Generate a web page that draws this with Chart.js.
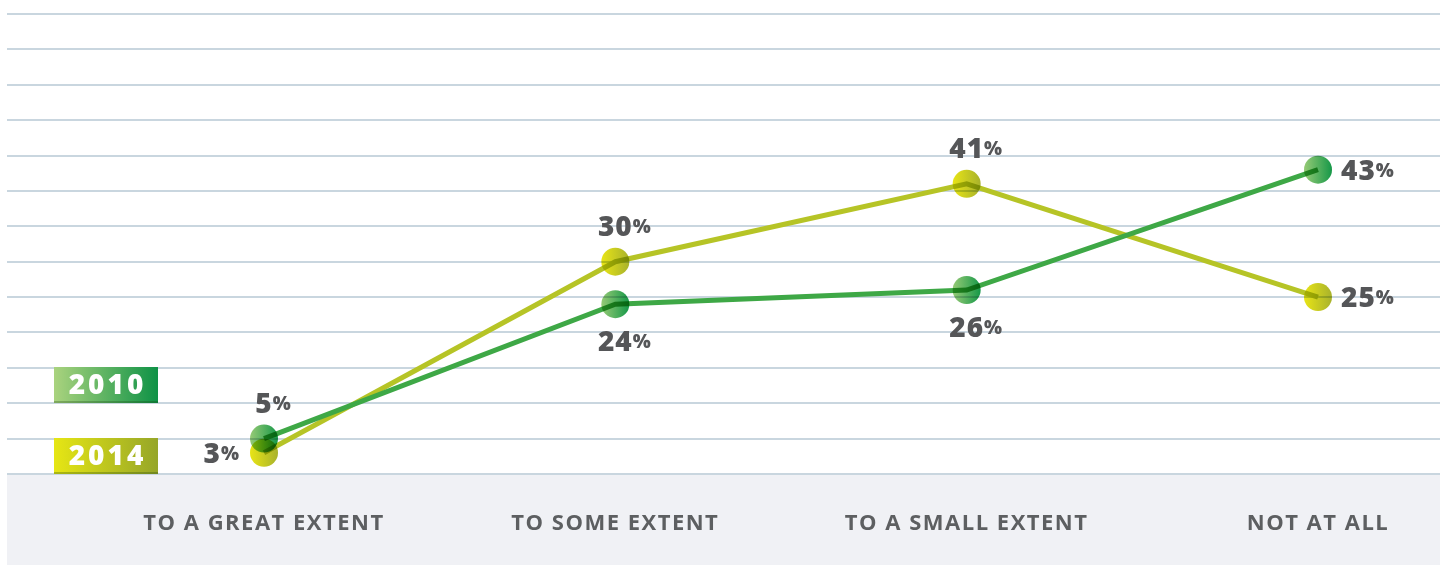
<!DOCTYPE html>
<html>
<head>
<meta charset="utf-8">
<script src="https://cdn.jsdelivr.net/npm/chart.js@4"></script>
<style>
  html, body { margin: 0; padding: 0; background: #ffffff; }
  #wrap { width: 1440px; height: 565px; position: relative; }
</style>
</head>
<body>
<div id="wrap"><canvas id="chart" width="1440" height="565"></canvas></div>
<script>
// Survey answers by category, 2010 vs 2014 (percent of respondents)
const categories = ['TO A GREAT EXTENT', 'TO SOME EXTENT', 'TO A SMALL EXTENT', 'NOT AT ALL'];
const seriesNames = ['2010', '2014'];
const values2010 = [5, 24, 26, 43];
const values2014 = [3, 30, 41, 25];
// where each value label sits relative to its point
const labelSide2010 = ['top', 'bottom', 'bottom', 'right'];
const labelSide2014 = ['left', 'top', 'top', 'right'];
// horizontal rule values on the y axis
const gridValues = [0, 5, 10, 15, 20, 25, 30, 35, 40, 45, 50, 55, 60, 65];

const FONT = '"Open Sans", "Noto Sans", sans-serif';
const POINT_R = 14;

const palette = {
  '2010': { line: 'rgb(62,168,70)', from: 'rgb(150,202,118)', to: 'rgb(22,152,72)',
            boxFrom: 'rgb(170,211,126)', boxTo: 'rgb(14,146,70)' },
  '2014': { line: 'rgb(182,196,38)', from: 'rgb(232,228,22)', to: 'rgb(168,178,44)',
            boxFrom: 'rgb(230,230,20)', boxTo: 'rgb(150,166,40)' }
};

// horizontal gradient across each point marker
function pointFill(name) {
  return function (context) {
    const chart = context.chart;
    if (!chart.chartArea || context.dataIndex === undefined) return palette[name].to;
    const x = chart.scales.x.getPixelForValue(context.dataIndex);
    const g = chart.ctx.createLinearGradient(x - POINT_R, 0, x + POINT_R, 0);
    g.addColorStop(0, palette[name].from);
    g.addColorStop(1, palette[name].to);
    return g;
  };
}

// background band, horizontal rules
const backdrop = {
  id: 'backdrop',
  beforeDraw(chart) {
    const { ctx, scales: { y } } = chart;
    ctx.save();
    ctx.fillStyle = '#ffffff';
    ctx.fillRect(0, 0, chart.width, chart.height);
    const base = y.getPixelForValue(0);
    ctx.fillStyle = '#f0f1f5';
    ctx.fillRect(7, base, chart.width - 7, chart.height - base);
    ctx.strokeStyle = '#c9d6df';
    ctx.lineWidth = 2;
    gridValues.forEach(v => {
      const py = Math.round(y.getPixelForValue(v));
      ctx.beginPath();
      ctx.moveTo(7, py);
      ctx.lineTo(chart.width, py);
      ctx.stroke();
    });
    ctx.restore();
    ctx.letterSpacing = '1.5px';
  }
};

// all lines first (2014 under 2010), then all markers blended with multiply
const layeredDatasets = {
  id: 'layeredDatasets',
  beforeDatasetsDraw(chart) {
    const ctx = chart.ctx;
    const area = chart.chartArea;
    ctx.save();
    ctx.letterSpacing = '0px';
    const metas = [chart.getDatasetMeta(1), chart.getDatasetMeta(0)];
    metas.forEach(meta => { if (meta.dataset) meta.dataset.draw(ctx, area); });
    ctx.globalCompositeOperation = 'multiply';
    metas.forEach(meta => meta.data.forEach(pt => pt.draw(ctx, area)));
    ctx.restore();
    return false;
  }
};

function drawValue(ctx, x, y, value, side) {
  const num = String(value);
  ctx.letterSpacing = '1px';
  ctx.font = '800 28px ' + FONT;
  const wNum = ctx.measureText(num).width;
  ctx.font = '800 19px ' + FONT;
  const wPct = ctx.measureText('%').width;
  let left, cy;
  if (side === 'top') { left = x - wNum / 2; cy = y - 36; }
  else if (side === 'bottom') { left = x - wNum / 2; cy = y + 37; }
  else if (side === 'right') { left = x + 23; cy = y; }
  else { left = x - 24 - wNum - wPct; cy = y; }
  ctx.fillStyle = '#555658';
  ctx.textAlign = 'left';
  ctx.textBaseline = 'alphabetic';
  ctx.font = '800 28px ' + FONT;
  ctx.fillText(num, left, cy + 10);
  ctx.font = '800 19px ' + FONT;
  ctx.fillText('%', left + wNum, cy + 7);
}

const valueLabels = {
  id: 'valueLabels',
  afterDraw(chart) {
    const ctx = chart.ctx;
    ctx.save();
    const sides = [labelSide2010, labelSide2014];
    chart.data.datasets.forEach((ds, i) => {
      const meta = chart.getDatasetMeta(i);
      meta.data.forEach((pt, j) => drawValue(ctx, pt.x, pt.y, ds.data[j], sides[i][j]));
    });

    // series key: gradient tiles with the year inside
    const tiles = [{ name: seriesNames[0], top: 367 }, { name: seriesNames[1], top: 438 }];
    tiles.forEach(t => {
      const left = 54, w = 104, h = 36;
      const g = ctx.createLinearGradient(left, 0, left + w, 0);
      g.addColorStop(0, palette[t.name].boxFrom);
      g.addColorStop(1, palette[t.name].boxTo);
      ctx.fillStyle = g;
      ctx.fillRect(left, t.top, w, h);
      ctx.fillStyle = 'rgba(20,60,10,0.28)';
      ctx.fillRect(left, t.top + h - 2, w, 2);
      ctx.fillStyle = '#ffffff';
      ctx.font = '800 28px ' + FONT;
      ctx.letterSpacing = '3px';
      ctx.textAlign = 'center';
      ctx.textBaseline = 'middle';
      ctx.fillText(t.name, left + w / 2 + 1.5, t.top + h / 2 + 1);
    });
    ctx.restore();
    ctx.letterSpacing = '0px';
  }
};

new Chart(document.getElementById('chart'), {
  type: 'line',
  data: {
    labels: categories,
    datasets: [
      {
        label: seriesNames[0],
        data: values2010,
        borderColor: palette['2010'].line,
        borderWidth: 5,
        tension: 0,
        pointRadius: POINT_R,
        pointBorderWidth: 0,
        pointBackgroundColor: pointFill('2010')
      },
      {
        label: seriesNames[1],
        data: values2014,
        borderColor: palette['2014'].line,
        borderWidth: 5,
        tension: 0,
        pointRadius: POINT_R,
        pointBorderWidth: 0,
        pointBackgroundColor: pointFill('2014')
      }
    ]
  },
  options: {
    responsive: false,
    animation: false,
    events: [],
    layout: { padding: { left: 264, right: 122, top: 10, bottom: 0 } },
    plugins: { legend: { display: false }, tooltip: { enabled: false } },
    scales: {
      y: { display: false, min: 0, max: 65 },
      x: {
        offset: false,
        grid: { display: false, drawTicks: false },
        border: { display: false },
        ticks: {
          color: '#5d5f61',
          font: { family: FONT, size: 22, weight: '700' },
          padding: 37,
          maxRotation: 0,
          autoSkip: false
        },
        // category band below the plot is a fixed 91px tall
        afterFit(scale) { scale.height = 91; }
      }
    }
  },
  plugins: [backdrop, layeredDatasets, valueLabels]
});
</script>
</body>
</html>
